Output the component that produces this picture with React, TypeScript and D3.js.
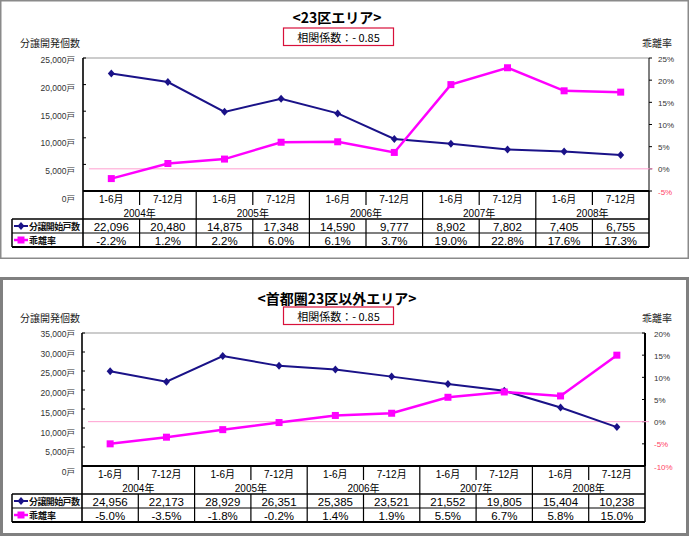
import React from "react";
import * as d3 from "d3";

const months = ["1-6月", "7-12月", "1-6月", "7-12月", "1-6月", "7-12月", "1-6月", "7-12月", "1-6月", "7-12月"];
const years = ["2004年", "2005年", "2006年", "2007年", "2008年"];

const units23 = [22096, 20480, 14875, 17348, 14590, 9777, 8902, 7802, 7405, 6755];
const rate23 = [-2.2, 1.2, 2.2, 6.0, 6.1, 3.7, 19.0, 22.8, 17.6, 17.3];
const unitsOther = [24956, 22173, 28929, 26351, 25385, 23521, 21552, 19805, 15404, 10238];
const rateOther = [-5.0, -3.5, -1.8, -0.2, 1.4, 1.9, 5.5, 6.7, 5.8, 15.0];

const leftTicks23 = [0, 5000, 10000, 15000, 20000, 25000];
const rightTicks23 = [-5, 0, 5, 10, 15, 20, 25];
const leftTicksOther = [0, 5000, 10000, 15000, 20000, 25000, 30000, 35000];
const rightTicksOther = [-10, -5, 0, 5, 10, 15, 20];

const NAVY = "#1a1288";
const PINK = "#ff00ff";
const LINE0 = "#ff9fd0";
const NEG = "#ff4466";
const FONT = "'Liberation Sans', Arial, 'Noto Sans CJK JP', sans-serif";
const JFONT = "'Noto Sans CJK JP', sans-serif";

type G = {
  title: string;
  titleY: number;
  boxY: number;
  axisTitleY: number;
  plotL: number;
  plotR: number;
  plotT: number;
  plotB: number;
  halfB: number;
  yearB: number;
  row1B: number;
  row2B: number;
  tableL: number;
  leftMax: number;
  leftTicks: number[];
  rightMin: number;
  rightMax: number;
  rightTicks: number[];
  rightLabelX: number;
  labelShift: number;
  labelBase: number;
  units: number[];
  rates: number[];
  bottomStyle: boolean;
};

const fmt = d3.format(",");

function Panel(g: G) {
  const x = d3.scaleBand<number>().domain(d3.range(10)).range([g.plotL, g.plotR]);
  const yL = d3.scaleLinear().domain([0, g.leftMax]).range([g.plotB, g.plotT]);
  const yR = d3.scaleLinear().domain([g.rightMin, g.rightMax]).range([g.plotB, g.plotT]);
  const cx = (i: number) => (x(i) as number) + x.bandwidth() / 2;
  const lineL = d3.line<number>().x((_, i) => cx(i)).y((d) => yL(d));
  const lineR = d3.line<number>().x((_, i) => cx(i)).y((d) => yR(d));
  const bw = x.bandwidth();
  const r1 = (g.yearB + g.row1B) / 2;
  const r2 = (g.row1B + g.row2B) / 2;
  const monthY = (g.plotB + g.halfB) / 2 + 1;
  const yearY = (g.halfB + g.yearB) / 2 + 1;
  return (
    <g>
      <text x={337} y={g.titleY} textAnchor="middle" dominantBaseline="central" fontFamily={JFONT} fontWeight="bold" fontSize={14} fill="#000">
        {g.title}
      </text>
      <rect x={283.5} y={g.boxY} width={110} height={17.5} fill="#fff" stroke="#d8103a" strokeWidth={1.2} />
      <text x={338.5} y={g.boxY + 9} textAnchor="middle" dominantBaseline="central" fontFamily={JFONT} fontSize={11} fill="#000">
        相関係数：- 0.85
      </text>
      <text x={20} y={g.axisTitleY} dominantBaseline="central" fontFamily={JFONT} fontSize={10} fill="#222" textLength={60}>
        分譲開発個数
      </text>
      <text x={642} y={g.axisTitleY} dominantBaseline="central" fontFamily={JFONT} fontSize={10} fill="#222">
        乖離率
      </text>

      {/* plot frame */}
      <line x1={g.plotL} x2={g.plotR} y1={g.plotT} y2={g.plotT} stroke="#999" strokeWidth={1} />
      <line x1={g.plotL} x2={g.plotL} y1={g.plotT} y2={g.plotB} stroke="#000" strokeWidth={1.6} />
      <line x1={g.plotR} x2={g.plotR} y1={g.plotT} y2={g.plotB} stroke="#000" strokeWidth={g.bottomStyle ? 2 : 1} />

      {/* left axis */}
      {g.leftTicks.map((t) => (
        <g key={"l" + t}>
          <line x1={g.plotL} x2={g.plotL + 3} y1={yL(t)} y2={yL(t)} stroke="#000" strokeWidth={1} />
          <text
            x={75}
            y={yL(t) + g.labelBase + g.labelShift * (1 - t / g.leftMax)}
            textAnchor="end"
            dominantBaseline="central"
            fontFamily={FONT}
            fontSize={8.5}
            fill="#333"
          >
            {fmt(t) + "戸"}
          </text>
        </g>
      ))}

      {/* right axis */}
      {g.rightTicks.map((t) => (
        <g key={"r" + t}>
          <line
            x1={g.plotR}
            x2={g.bottomStyle ? g.plotR - 3 : g.plotR + 3}
            y1={yR(t)}
            y2={yR(t)}
            stroke="#000"
            strokeWidth={1}
          />
          <text x={g.rightLabelX} y={yR(t) + 1} dominantBaseline="central" fontFamily={FONT} fontSize={8} fill={t < 0 ? NEG : "#333"}>
            {t + "%"}
          </text>
        </g>
      ))}

      {/* zero reference line */}
      <line x1={g.plotL + 6} x2={g.plotR + 4} y1={yR(0)} y2={yR(0)} stroke={LINE0} strokeWidth={1} />

      {/* series */}
      <path d={lineL(g.units) || ""} fill="none" stroke={NAVY} strokeWidth={2} />
      {g.units.map((v, i) => (
        <path key={"d" + i} d={`M${cx(i)},${yL(v) - 4}L${cx(i) + 3.5},${yL(v)}L${cx(i)},${yL(v) + 4}L${cx(i) - 3.5},${yL(v)}Z`} fill={NAVY} />
      ))}
      <path d={lineR(g.rates) || ""} fill="none" stroke={PINK} strokeWidth={2.5} />
      {g.rates.map((v, i) => (
        <rect key={"s" + i} x={cx(i) - 3.5} y={yR(v) - 3.5} width={7} height={7} fill={PINK} />
      ))}

      {/* table */}
      <line x1={g.plotL} x2={g.plotR} y1={g.plotB} y2={g.plotB} stroke="#000" strokeWidth={2} />
      <line x1={g.tableL} x2={g.plotR} y1={g.yearB} y2={g.yearB} stroke="#000" strokeWidth={1.5} />
      <line x1={g.tableL} x2={g.plotR} y1={g.row1B} y2={g.row1B} stroke="#000" strokeWidth={1.2} />
      <line x1={g.tableL} x2={g.plotR} y1={g.row2B} y2={g.row2B} stroke="#000" strokeWidth={2} />
      <line x1={g.tableL} x2={g.tableL} y1={g.yearB} y2={g.row2B} stroke="#000" strokeWidth={1.5} />
      <line x1={g.plotL} x2={g.plotL} y1={g.plotB} y2={g.row2B} stroke="#000" strokeWidth={1.6} />
      <line x1={g.plotR} x2={g.plotR} y1={g.plotB} y2={g.row2B} stroke="#000" strokeWidth={1.6} />
      {d3.range(1, 10).map((i) => (
        <line
          key={"v" + i}
          x1={x(i) as number}
          x2={x(i) as number}
          y1={g.plotB}
          y2={i % 2 === 0 ? g.row2B : g.halfB}
          stroke="#000"
          strokeWidth={1.2}
        />
      ))}
      {d3.range(1, 10, 2).map((i) => (
        <line key={"vb" + i} x1={x(i) as number} x2={x(i) as number} y1={g.yearB} y2={g.row2B} stroke="#000" strokeWidth={1.2} />
      ))}
      {months.map((m, i) => (
        <text key={"m" + i} x={cx(i)} y={monthY} textAnchor="middle" dominantBaseline="central" fontFamily={FONT} fontSize={10} fill="#000">
          {m}
        </text>
      ))}
      {years.map((yv, k) => (
        <text key={"y" + k} x={x(2 * k + 1) as number} y={yearY} textAnchor="middle" dominantBaseline="central" fontFamily={FONT} fontSize={10} fill="#000">
          {yv}
        </text>
      ))}
      {g.units.map((v, i) => (
        <text key={"u" + i} x={cx(i)} y={r1 + 0.5} textAnchor="middle" dominantBaseline="central" fontFamily={FONT} fontSize={11.5} fill="#000">
          {fmt(v)}
        </text>
      ))}
      {g.rates.map((v, i) => (
        <text key={"p" + i} x={cx(i)} y={r2 + 0.5} textAnchor="middle" dominantBaseline="central" fontFamily={FONT} fontSize={11.5} fill="#000">
          {v.toFixed(1) + "%"}
        </text>
      ))}
      {/* legend keys */}
      <line x1={g.tableL + 2} x2={g.tableL + 16} y1={r1} y2={r1} stroke={NAVY} strokeWidth={2} />
      <path d={`M${g.tableL + 9},${r1 - 4}L${g.tableL + 12.5},${r1}L${g.tableL + 9},${r1 + 4}L${g.tableL + 5.5},${r1}Z`} fill={NAVY} />
      <text x={g.tableL + 17} y={r1 + 0.5} dominantBaseline="central" fontFamily={JFONT} fontWeight="bold" fontSize={9} fill="#111" textLength={51}>
        分譲開始戸数
      </text>
      <line x1={g.tableL + 2} x2={g.tableL + 16} y1={r2} y2={r2} stroke={PINK} strokeWidth={2.5} />
      <rect x={g.tableL + 5.5} y={r2 - 3.5} width={7} height={7} fill={PINK} />
      <text x={g.tableL + 17} y={r2 + 0.5} dominantBaseline="central" fontFamily={JFONT} fontWeight="bold" fontSize={9} fill="#111">
        乖離率
      </text>
    </g>
  );
}

export default function App() {
  return (
    <svg width={691} height={537} style={{ position: "absolute", left: 0, top: 0, background: "#fff" }}>
      <rect x={0} y={0} width={691} height={537} fill="#fff" />
      <rect x={0.75} y={0.75} width={687.5} height={257.5} fill="none" stroke="#8a8a8a" strokeWidth={1.5} />
      <rect x={1.5} y={278.5} width={686} height={256} fill="none" stroke="#808080" strokeWidth={3} />
      <Panel
        title="<23区エリア>"
        titleY={17}
        boxY={28}
        axisTitleY={42}
        plotL={83}
        plotR={649}
        plotT={58}
        plotB={191}
        halfB={205}
        yearB={219}
        row1B={233}
        row2B={247}
        tableL={12}
        leftMax={25000}
        leftTicks={leftTicks23}
        rightMin={-5}
        rightMax={25}
        rightTicks={rightTicks23}
        rightLabelX={658}
        labelShift={6}
        labelBase={2}
        units={units23}
        rates={rate23}
        bottomStyle={false}
      />
      <Panel
        title="<首都圏23区以外エリア>"
        titleY={298}
        boxY={307}
        axisTitleY={317}
        plotL={82}
        plotR={645}
        plotT={333}
        plotB={466}
        halfB={480}
        yearB={494}
        row1B={508}
        row2B={522}
        tableL={12}
        leftMax={35000}
        leftTicks={leftTicksOther}
        rightMin={-10}
        rightMax={20}
        rightTicks={rightTicksOther}
        rightLabelX={654}
        labelShift={5}
        labelBase={1}
        units={unitsOther}
        rates={rateOther}
        bottomStyle={true}
      />
    </svg>
  );
}
